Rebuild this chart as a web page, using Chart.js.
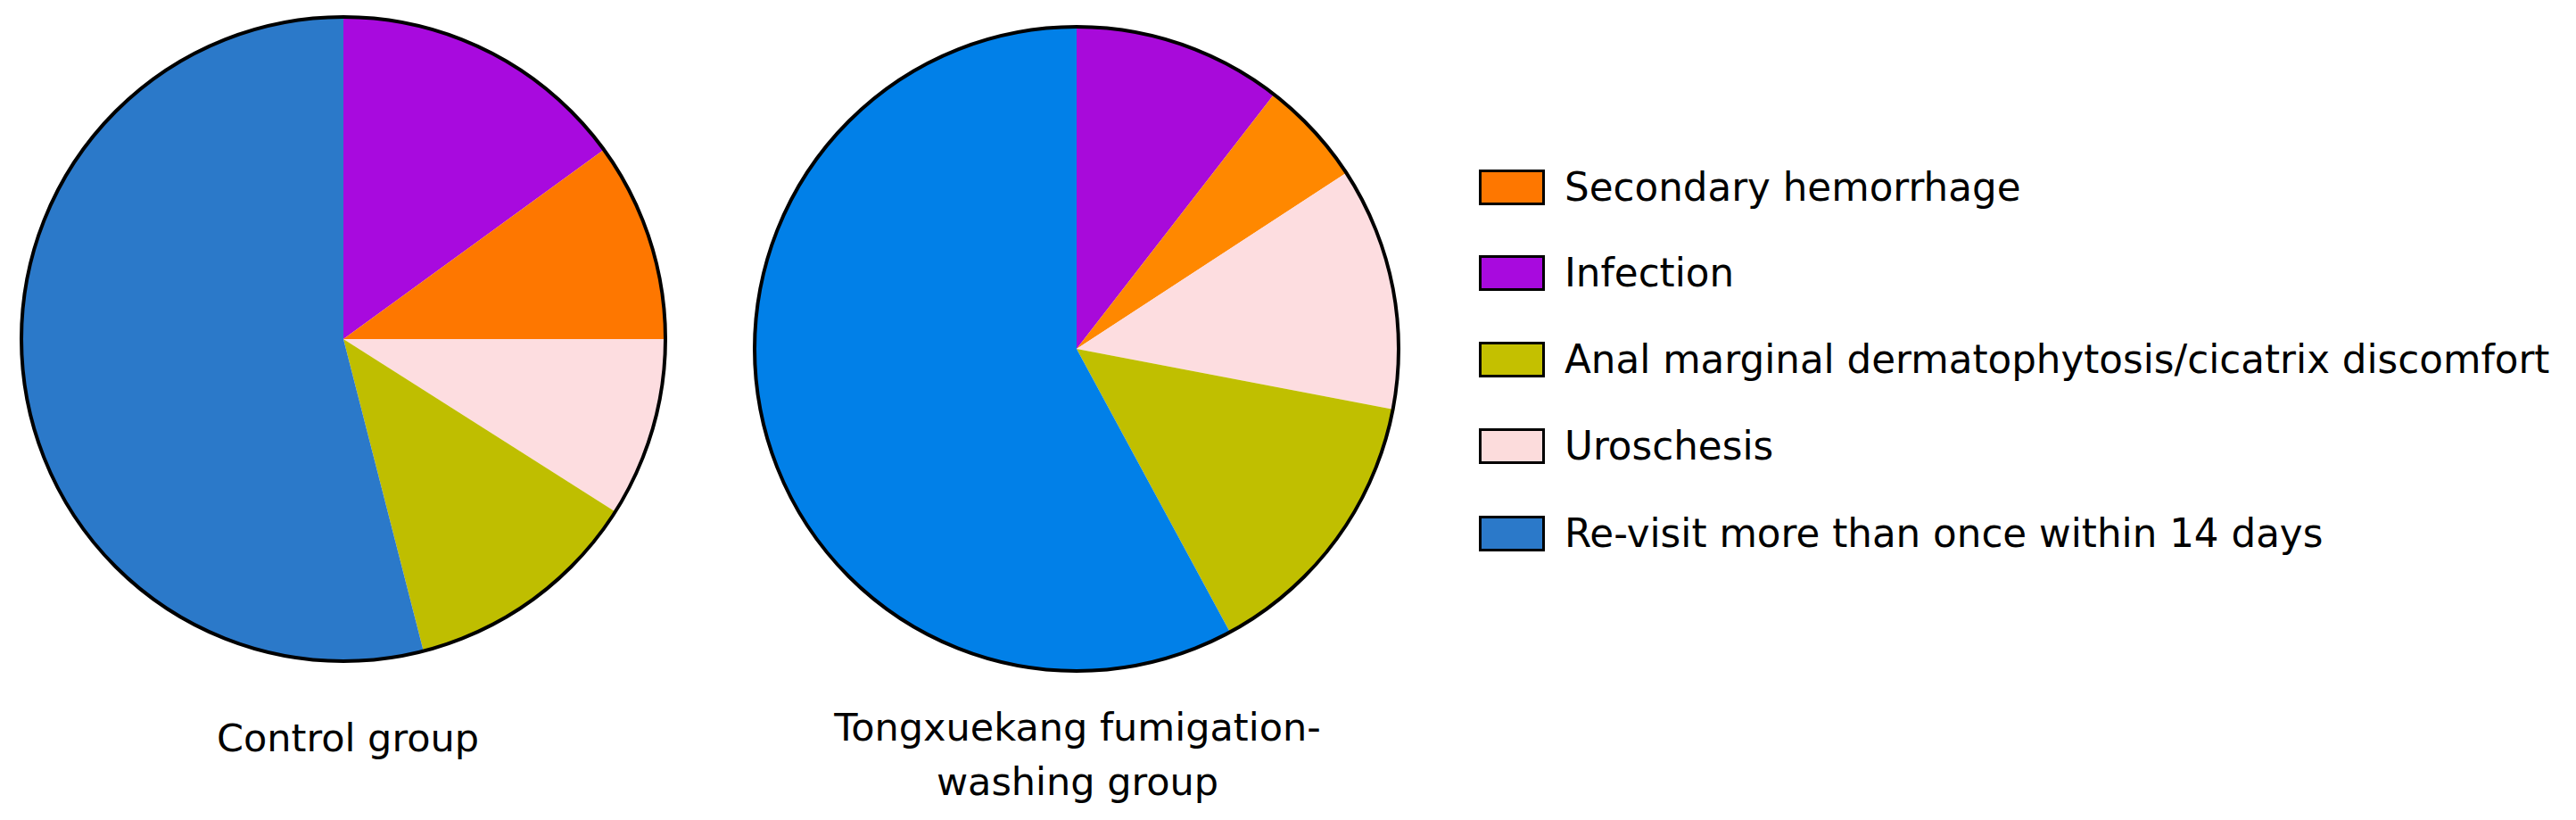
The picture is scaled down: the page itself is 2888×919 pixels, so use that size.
<!DOCTYPE html>
<html>
<head>
<meta charset="utf-8">
<script src="https://cdn.jsdelivr.net/npm/chart.js@4/dist/chart.umd.min.js"></script>
<style>
  html, body { margin: 0; padding: 0; background: #ffffff; }
  body { width: 2888px; height: 919px; position: relative; overflow: hidden; font-family: "DejaVu Sans", Verdana, sans-serif; color: #000; }
  .pie { position: absolute; }
  .glabel { position: absolute; width: 900px; text-align: center; font-size: 43px; line-height: 61px; white-space: nowrap; }
  .legend { position: absolute; left: 1658px; top: 0; }
  .lrow { position: absolute; left: 0; height: 46px; display: flex; align-items: center; white-space: nowrap; font-size: 43.6px; }
  .lbox { width: 68px; height: 34px; border: 3px solid #000; margin-right: 22px; flex: none; }
</style>
</head>
<body>
<canvas id="pie1" class="pie" width="730" height="730" style="left:20px;top:15px;width:730px;height:730px;"></canvas>
<canvas id="pie2" class="pie" width="730" height="730" style="left:842px;top:26px;width:730px;height:730px;"></canvas>
<div id="g1" class="glabel" style="left:-60px;top:797px;"></div>
<div id="g2" class="glabel" style="left:758px;top:785px;"></div>
<div id="legend" class="legend"></div>
<script>
// ---- data ----
const sliceLabels = ['Infection', 'Secondary hemorrhage', 'Uroschesis', 'Anal marginal dermatophytosis/cicatrix discomfort', 'Re-visit more than once within 14 days'];
const controlValues = [15, 10, 9, 12, 54];
const tongxuekangValues = [10.5, 5.3, 12.2, 14.1, 57.9];
const groupTitles = [['Control group'], ['Tongxuekang fumigation-', 'washing group']];
const legendLabels = ['Secondary hemorrhage', 'Infection', 'Anal marginal dermatophytosis/cicatrix discomfort', 'Uroschesis', 'Re-visit more than once within 14 days'];

// ---- styles ----
const controlColors = ['#A80ADE', '#FE7700', '#FDDDE0', '#BFBE00', '#2B79C9'];
const tongColors = ['#A80ADA', '#FF8800', '#FDDDE0', '#C0BF00', '#0180E8'];
const legendColors = ['#FE7700', '#A80ADE', '#C4C000', '#FCDCDC', '#2B79C9'];
const legendCenters = [210, 306, 403, 500, 598];

const outlinePlugin = {
  id: 'outline',
  afterDatasetsDraw(chart) {
    const arc = chart.getDatasetMeta(0).data[0];
    if (!arc) return;
    const ctx = chart.ctx;
    ctx.save();
    ctx.beginPath();
    ctx.arc(arc.x, arc.y, arc.outerRadius, 0, Math.PI * 2);
    ctx.lineWidth = 4;
    ctx.strokeStyle = '#000';
    ctx.stroke();
    ctx.restore();
  }
};

function makePie(id, values, colors) {
  new Chart(document.getElementById(id), {
    type: 'pie',
    data: {
      labels: sliceLabels,
      datasets: [{
        data: values,
        backgroundColor: colors,
        borderWidth: 0,
        hoverOffset: 0,
        offset: 0
      }]
    },
    options: {
      responsive: false,
      animation: false,
      events: [],
      layout: { padding: 4 },
      plugins: { legend: { display: false }, tooltip: { enabled: false }, title: { display: false } }
    },
    plugins: [outlinePlugin]
  });
}

makePie('pie1', controlValues, controlColors);
makePie('pie2', tongxuekangValues, tongColors);

function setTitle(id, lines) {
  const el = document.getElementById(id);
  lines.forEach((t, i) => {
    if (i) el.appendChild(document.createElement('br'));
    el.appendChild(document.createTextNode(t));
  });
}
setTitle('g1', groupTitles[0]);
setTitle('g2', groupTitles[1]);

const legend = document.getElementById('legend');
legendLabels.forEach((lab, i) => {
  const row = document.createElement('div');
  row.className = 'lrow';
  row.style.top = (legendCenters[i] - 23) + 'px';
  const box = document.createElement('div');
  box.className = 'lbox';
  box.style.background = legendColors[i];
  const txt = document.createElement('span');
  txt.textContent = lab;
  row.appendChild(box);
  row.appendChild(txt);
  legend.appendChild(row);
});
</script>
</body>
</html>
